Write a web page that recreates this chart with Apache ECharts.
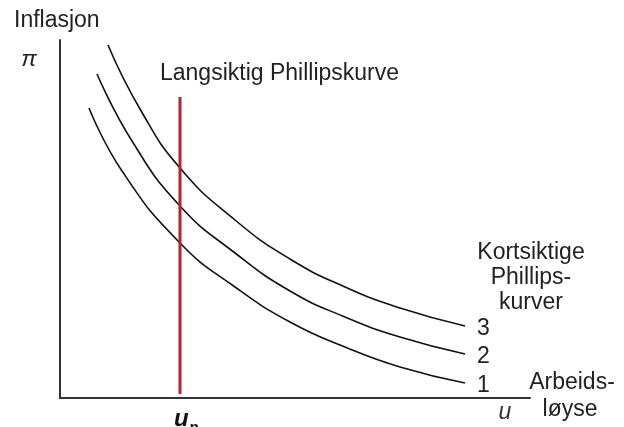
<!DOCTYPE html>
<html>
<head>
<meta charset="utf-8">
<script src="https://cdn.jsdelivr.net/npm/echarts@6/dist/echarts.min.js"></script>
<style>html,body{margin:0;padding:0;background:#fff}#c{width:624px;height:427px}</style>
</head>
<body>
<div id="c"></div>
<script>
// Short-run Phillips curves (u, pi) in schematic units
var curve1 = [[29,290],[62,227],[120,155],[175,111],[230,76],[285,51],[340,31],[405,15]];
var curve2 = [[37,324],[72,257],[120,192],[175,145],[230,107],[285,81],[340,61],[405,44]];
var curve3 = [[48,353],[80,289],[120,230],[175,178],[230,139],[285,111],[340,90],[405,72]];
var curveNames = ['1', '2', '3'];
// Long-run Phillips curve at natural rate u_n
var uNatural = 120;
var lrpcRange = [4, 301];
var xMax = 470, yMax = 358;

var font = "'Liberation Sans', Arial, sans-serif";
var fs = 23;
var chart = echarts.init(document.getElementById('c'));
function shortRun(name, data) {
  return {
    name: name, type: 'line', data: data, smooth: 0.5, symbol: 'none',
    lineStyle: {color: '#111', width: 1.6},
    endLabel: {show: true, formatter: name, color: '#222', fontSize: fs, fontFamily: font, distance: 12, offset: [0, 3]},
    silent: true, z: 3
  };
}
function txt(x, y, s, extra) {
  var st = {text: s, font: fs + 'px ' + font, fill: '#222', align: 'center', verticalAlign: 'middle'};
  for (var k in extra) st[k] = extra[k];
  return {type: 'text', x: x, y: y, style: st};
}
chart.setOption({
  animation: false,
  grid: {left: 60, top: 40, width: 470, height: 358},
  xAxis: {type: 'value', min: 0, max: xMax, axisLine: {lineStyle: {color: '#333', width: 2}},
    axisTick: {show: false}, axisLabel: {show: false}, splitLine: {show: false}},
  yAxis: {type: 'value', min: 0, max: yMax, axisLine: {show: true, lineStyle: {color: '#333', width: 2}},
    axisTick: {show: false}, axisLabel: {show: false}, splitLine: {show: false}},
  series: [
    shortRun(curveNames[0], curve1),
    shortRun(curveNames[1], curve2),
    shortRun(curveNames[2], curve3),
    {type: 'line', data: [[uNatural, lrpcRange[0]], [uNatural, lrpcRange[1]]], symbol: 'none',
      lineStyle: {color: '#b5222b', width: 3}, silent: true, z: 4}
  ],
  graphic: [
    txt(14, 21, 'Inflasjon', {align: 'left'}),
    txt(29, 60, 'π', {font: 'italic ' + fs + 'px ' + font}),
    txt(160, 74, 'Langsiktig Phillipskurve', {align: 'left'}),
    txt(531, 253, 'Kortsiktige'),
    txt(531, 278, 'Phillips-'),
    txt(531, 303, 'kurver'),
    txt(572, 383, 'Arbeids-'),
    txt(570, 410, 'løyse'),
    txt(505, 413, 'u', {font: 'italic ' + fs + 'px ' + font, fill: '#333'}),
    {type: 'text', x: 174, y: 403, style: {text: '{u|u}{n|n}', rich: {
      u: {font: 'italic bold 24px ' + font, fill: '#111'},
      n: {font: 'bold 15px ' + font, fill: '#111', padding: [17, 0, 0, 1]}}}}
  ]
});
</script>
</body>
</html>
